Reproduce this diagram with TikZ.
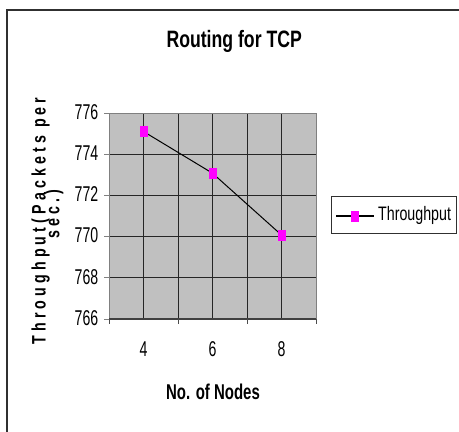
\documentclass[tikz,border=0pt]{standalone}
\usepackage{fontspec}
\setmainfont{Liberation Sans}
\newfontfamily\spacedfont[LetterSpace=29]{Liberation Sans}
\usepackage{graphicx}
\definecolor{plotgray}{HTML}{C0C0C0}
\definecolor{axisgray}{HTML}{808080}
\definecolor{framegray}{HTML}{303030}
\definecolor{markmag}{HTML}{FF00FF}
\newcommand\narrowtxt[2]{\scalebox{#1}[1]{#2}}
\begin{document}
\begin{tikzpicture}[x=1pt,y=-1pt,
  gridline/.style={draw=black!85, line width=0.8pt},
  axisline/.style={draw=axisgray, line width=1pt},
  tickline/.style={draw=black!70, line width=1pt},
  markbox/.style={rectangle, fill=markmag, draw=none, minimum width=8pt, minimum height=11pt, inner sep=0pt},
  ticklabel/.style={inner sep=0pt, font=\fontsize{21.4}{24}\selectfont},
  titlelabel/.style={inner sep=0pt, font=\fontsize{23.7}{26}\selectfont\bfseries},
  axistitle/.style={inner sep=0pt, font=\fontsize{21.4}{24}\selectfont\bfseries},
  ylabstyle/.style={inner sep=0pt, rotate=90, anchor=base, font=\fontsize{19.5}{22}\selectfont\spacedfont\bfseries},
  legendtext/.style={inner sep=0pt, anchor=base west, font=\fontsize{19.5}{22}\selectfont}
]
\useasboundingbox (0,0) rectangle (459,432);
\fill[white] (0,0) rectangle (459,432);
% outer frame (left and top edges)
\draw[framegray, line width=1.5pt] (7,432) -- (7,10) -- (459,10);
% title
\node[titlelabel, anchor=base] (title) at (234.2,47.7) {\narrowtxt{0.745}{Routing for TCP}};
% plot area
\fill[plotgray] (109,113) rectangle (316,319);
\foreach \yy in {154.2,195.4,236.6,277.8} {\draw[gridline] (109,\yy) -- (316,\yy);}
\foreach \xx in {143.5,178,212.5,247,281.5} {\draw[gridline] (\xx,113) -- (\xx,319);}
\draw[axisline] (109,319) -- (109,113) -- (316,113) -- (316,319);
\draw[draw=black!75, line width=1.6pt] (109,319) -- (316,319);
% y ticks and labels
\foreach \v [count=\i from 0] in {776,774,772,770,768,766} {
  \pgfmathsetmacro\yy{113+\i*41.2}
  \draw[axisline] (104,\yy) -- (109,\yy);
  \node[ticklabel, anchor=base east] (yl\v) at (98.5,\yy+6.3) {\narrowtxt{0.66}{\v}};
}
% x ticks and labels
\foreach \xx in {109,178,247,316} {\draw[tickline] (\xx,319) -- (\xx,324);}
\node[ticklabel, anchor=base] (xl4) at (143.5,356) {\narrowtxt{0.66}{4}};
\node[ticklabel, anchor=base] (xl6) at (212.5,356) {\narrowtxt{0.66}{6}};
\node[ticklabel, anchor=base] (xl8) at (281.5,356) {\narrowtxt{0.66}{8}};
% axis titles
\node[axistitle, anchor=base] (xtitle) at (213,399.3) {\narrowtxt{0.70}{No. of Nodes}};
\node[ylabstyle] (ytitleA) at (45.7,221) {\narrowtxt{0.73}{Throughput(Packets per}};
\node[ylabstyle] (ytitleB) at (59.5,214.5) {\narrowtxt{0.73}{sec.)}};
% data series
\coordinate (p1) at (143.5,131.5);
\coordinate (p2) at (212.5,173.2);
\coordinate (p3) at (281.5,235);
\draw[black, line width=1pt] (p1) -- (p2) -- (p3);
\node[markbox] (m1) at (p1) {};
\node[markbox] (m2) at (p2) {};
\node[markbox] (m3) at (p3) {};
% legend
\node[draw=framegray, line width=1pt, minimum width=125pt, minimum height=37pt, inner sep=0pt] (legend) at (393.5,214.5) {};
\coordinate (la) at (336,216);
\coordinate (lb) at (374,216);
\draw[black, line width=1.2pt] (la) -- (lb);
\node[markbox] (lm) at (355,216) {};
\node[legendtext] (lt) at (378,220.7) {\narrowtxt{0.73}{Throughput}};
\end{tikzpicture}
\end{document}
